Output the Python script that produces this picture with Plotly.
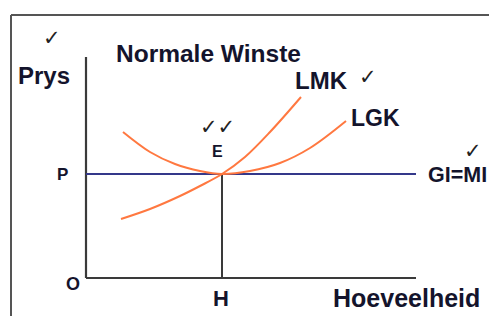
import plotly.graph_objects as go

# ---- data (quantity / price units of the diagram) ----
axis_q_max = 330
axis_p_max = 221
P_level = 104
H_level = 136

lgk_q = [37, 64, 89, 114, 136, 164, 194, 224, 260]
lgk_p = [146, 126, 114, 107, 104, 107, 115, 130, 157]

lmk_q = [35, 64, 94, 114, 136, 159, 184, 215]
lmk_p = [59, 69, 82, 92, 104, 121, 146, 181]

title_text = "Normale Winste"
y_label = "Prys"
x_label = "Hoeveelheid"
label_lmk = "LMK"
label_lgk = "LGK"
label_mr = "GI=MI"
label_p = "P"
label_o = "O"
label_h = "H"
label_e = "E"
check = "\u2713"

ORANGE = "#FF7840"
NAVY = "#34388A"
AX = "#3a3a3a"
TXT = "#14142c"
FONT = "Liberation Sans, Arial, sans-serif"

fig = go.Figure()

# axes
fig.add_trace(go.Scatter(x=[0, 0], y=[0, axis_p_max], mode="lines",
                         line=dict(color=AX, width=2.2), hoverinfo="skip"))
fig.add_trace(go.Scatter(x=[0, axis_q_max], y=[0, 0], mode="lines",
                         line=dict(color=AX, width=2.2), hoverinfo="skip"))
# H vertical
fig.add_trace(go.Scatter(x=[H_level, H_level], y=[0, P_level], mode="lines",
                         line=dict(color=AX, width=2), hoverinfo="skip"))
# P line (GI=MI)
fig.add_trace(go.Scatter(x=[0, axis_q_max], y=[P_level, P_level], mode="lines",
                         line=dict(color=NAVY, width=1.8), hoverinfo="skip"))
# curves
fig.add_trace(go.Scatter(x=lgk_q, y=lgk_p, mode="lines",
                         line=dict(color=ORANGE, width=2, shape="spline", smoothing=1.0),
                         hoverinfo="skip"))
fig.add_trace(go.Scatter(x=lmk_q, y=lmk_p, mode="lines",
                         line=dict(color=ORANGE, width=2, shape="spline", smoothing=1.0),
                         hoverinfo="skip"))

def txt(x, y, s, size=23, xanchor="center", color=TXT, bold=True, family=FONT):
    fig.add_annotation(x=x, y=y, text=s, showarrow=False, xanchor=xanchor,
                       yanchor="middle",
                       font=dict(family=family, size=size, color=color,
                                 weight="bold" if bold else "normal"))

txt(122, 225, title_text, size=24.5)
txt(-42, 203, y_label, size=24)
txt(235, 198, label_lmk, size=24)
txt(289, 160, label_lgk, size=23)
txt(371, 103, label_mr, size=21.5)
txt(-23.5, 104, label_p, size=17)
txt(-13, -6, label_o, size=18)
txt(135, -20, label_h, size=22)
txt(320, -20, x_label, size=25)
txt(131, 127, label_e, size=16)

CK = "#222222"
txt(-34, 240, check, size=21, color=CK, bold=True, family="DejaVu Sans")
txt(131, 151, check + check, size=21, color=CK, bold=True, family="DejaVu Sans")
txt(282, 201, check, size=21, color=CK, bold=True, family="DejaVu Sans")
txt(387, 127, check, size=21, color=CK, bold=True, family="DejaVu Sans")

# frame lines (top and left)
fig.add_shape(type="line", xref="x", yref="y", x0=-75, x1=420, y0=263, y1=263,
              line=dict(color="#555555", width=2))
fig.add_shape(type="line", xref="x", yref="y", x0=-75, x1=-75, y0=263, y1=-45,
              line=dict(color="#555555", width=2))

fig.update_layout(
    width=489, height=308, autosize=False,
    margin=dict(l=0, r=0, t=0, b=0),
    paper_bgcolor="white", plot_bgcolor="white",
    showlegend=False,
    xaxis=dict(range=[-78, 411], visible=False, fixedrange=True),
    yaxis=dict(range=[-38, 270], visible=False, fixedrange=True),
)

fig.write_html("out.html")
